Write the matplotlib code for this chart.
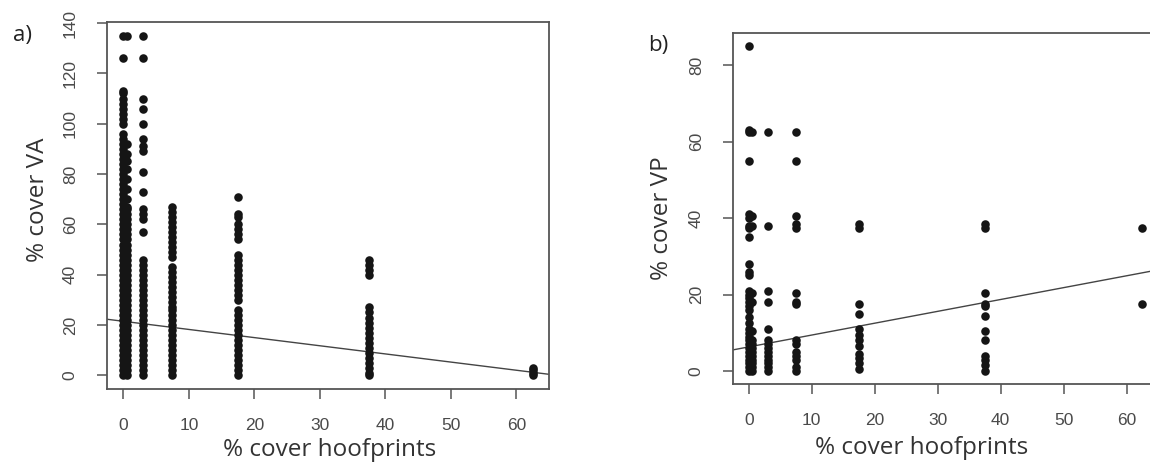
import numpy as np
import matplotlib
matplotlib.use("Agg")
import matplotlib.pyplot as plt

plt.rcParams['font.family'] = ['Liberation Sans', 'DejaVu Sans']

# Panel a) % cover VA by hoofprint cover class
va_x0 = [0, 2, 4, 6, 8, 10, 12, 14, 16, 18, 20, 22, 24, 26, 28, 30, 32, 34, 36, 38,
         40, 42, 44, 46, 48, 50, 52, 54, 56, 58, 60, 62, 64, 66, 68, 70, 72, 74, 76,
         78, 80, 82, 84, 86, 88, 90, 92, 94, 96,
         100, 102, 104, 106, 108, 110, 112, 113, 126, 135]
va_x05 = [0, 2, 4, 6, 8, 10, 12, 14, 16, 18, 20, 22, 24, 26, 28, 30, 32, 34, 36,
          38, 40, 42, 44, 46, 48, 50, 52, 54, 56, 58, 60, 62, 64, 66, 67,
          70, 74, 78, 82, 85, 88, 92, 135]
va_x3 = [0, 2, 4, 6, 8, 10, 12, 14, 16, 18, 20, 22, 24, 26, 28, 30, 32, 34, 36, 38,
         40, 42, 44, 46, 57, 62, 64, 66, 73, 81, 89, 91, 94, 100, 106, 110, 126, 135]
va_x75 = [0, 2, 4, 6, 8, 10, 12, 14, 16, 18, 20, 22, 24, 26, 27,
          29, 31, 33, 35, 37, 39, 41, 43,
          47, 49, 51, 53, 55, 57, 59, 61, 63, 65, 67]
va_x175 = [0, 2, 4, 6, 8, 10, 12, 14, 16, 18, 20, 22, 24, 26,
           30, 32, 34, 36, 38, 40, 42, 44, 46, 48,
           54, 56, 58, 60, 63, 64, 71]
va_x375 = [0, 1, 3, 5, 7, 9, 11, 13, 15, 17, 19, 21, 23, 25, 27, 40, 42, 44, 46]
va_x625 = [0, 1, 2, 3]
va_fit = (21.5, -0.324)  # intercept, slope

# Panel b) % cover VP by hoofprint cover class
vp_x0 = [0, 1, 2, 3, 4, 5, 6, 7, 8, 9, 10, 11, 12.5, 14, 16, 17, 18, 19, 20, 21,
         25, 26, 28, 35, 37.5, 38, 40, 41, 55, 62.5, 63, 85]
vp_x05 = [0, 1, 2, 3, 4, 5, 6, 7, 8, 10.5, 18, 20.5, 38, 40.5, 62.5]
vp_x3 = [0, 1, 2, 3, 4, 5, 6, 7, 8, 11, 18, 21, 38, 62.5]
vp_x75 = [0, 1, 3, 4, 5, 7, 8, 17.5, 18, 20.5, 37.5, 38.5, 40.5, 55, 62.5]
vp_x175 = [0.5, 2, 3.5, 4.5, 6.5, 8, 9.5, 11, 15, 17.5, 37.5, 38.5]
vp_x375 = [0, 1.5, 3, 4, 8, 10.5, 14.5, 17, 17.5, 20.5, 37.5, 38.5]
vp_x625 = [17.5, 37.5]
vp_fit = (6.3, 0.31)

classes = [0, 0.5, 3, 7.5, 17.5, 37.5, 62.5]
va_cols = [va_x0, va_x05, va_x3, va_x75, va_x175, va_x375, va_x625]
vp_cols = [vp_x0, vp_x05, vp_x3, vp_x75, vp_x175, vp_x375, vp_x625]

W, H = 1150, 467
fig = plt.figure(figsize=(W / 100, H / 100), dpi=100)
ax1 = fig.add_axes([107 / W, 1 - 389 / H, (549 - 107) / W, (389 - 22) / H])
ax2 = fig.add_axes([733 / W, 1 - 384 / H, (1158 - 733) / W, (384 - 33) / H])

label_font = ['Open Sans', 'DejaVu Sans']
spine_col = '#555555'
tick_col = '#4a4a4a'


def style(ax, yticks):
    for s in ax.spines.values():
        s.set_color(spine_col)
        s.set_linewidth(1.3)
    ax.set_xticks([0, 10, 20, 30, 40, 50, 60])
    ax.set_yticks(yticks)
    ax.tick_params(axis='both', direction='out', length=7, width=1.1,
                   color=spine_col, labelcolor=tick_col, labelsize=12.5, pad=14)
    for lab in ax.get_yticklabels():
        lab.set_rotation(90)
        lab.set_va('center')


for ax, cols, fit in [(ax1, va_cols, va_fit), (ax2, vp_cols, vp_fit)]:
    for xc, ys in zip(classes, cols):
        ax.scatter(np.full(len(ys), xc), ys, s=38, color='#151515', linewidths=0, zorder=3)
    ax.axline((0, fit[0]), slope=fit[1], color='#444444', lw=1.0, zorder=2)
    ax.set_xlim(-2.5, 65)

ax1.set_ylim(-5.4, 140.4)
ax2.set_ylim(-3.4, 88.4)
style(ax1, [0, 20, 40, 60, 80, 100, 120, 140])
style(ax2, [0, 20, 40, 60, 80])

fig.text(330 / W, 1 - 450 / H, '% cover hoofprints', ha='center', va='center',
         fontsize=17.5, color='#333333', family=label_font)
fig.text(38 / W, 1 - 200 / H, '% cover VA', ha='center', va='center', rotation=90,
         fontsize=17.5, color='#333333', family=label_font)
fig.text(922 / W, 1 - 448 / H, '% cover hoofprints', ha='center', va='center',
         fontsize=17.5, color='#333333', family=label_font)
fig.text(662 / W, 1 - 218 / H, '% cover VP', ha='center', va='center', rotation=90,
         fontsize=17.5, color='#333333', family=label_font)
fig.text(22 / W, 1 - 35 / H, 'a)', ha='center', va='center', fontsize=16,
         color='#222222', family=label_font)
fig.text(658 / W, 1 - 45 / H, 'b)', ha='center', va='center', fontsize=16,
         color='#222222', family=label_font)

fig.savefig('out.png', dpi=100)
